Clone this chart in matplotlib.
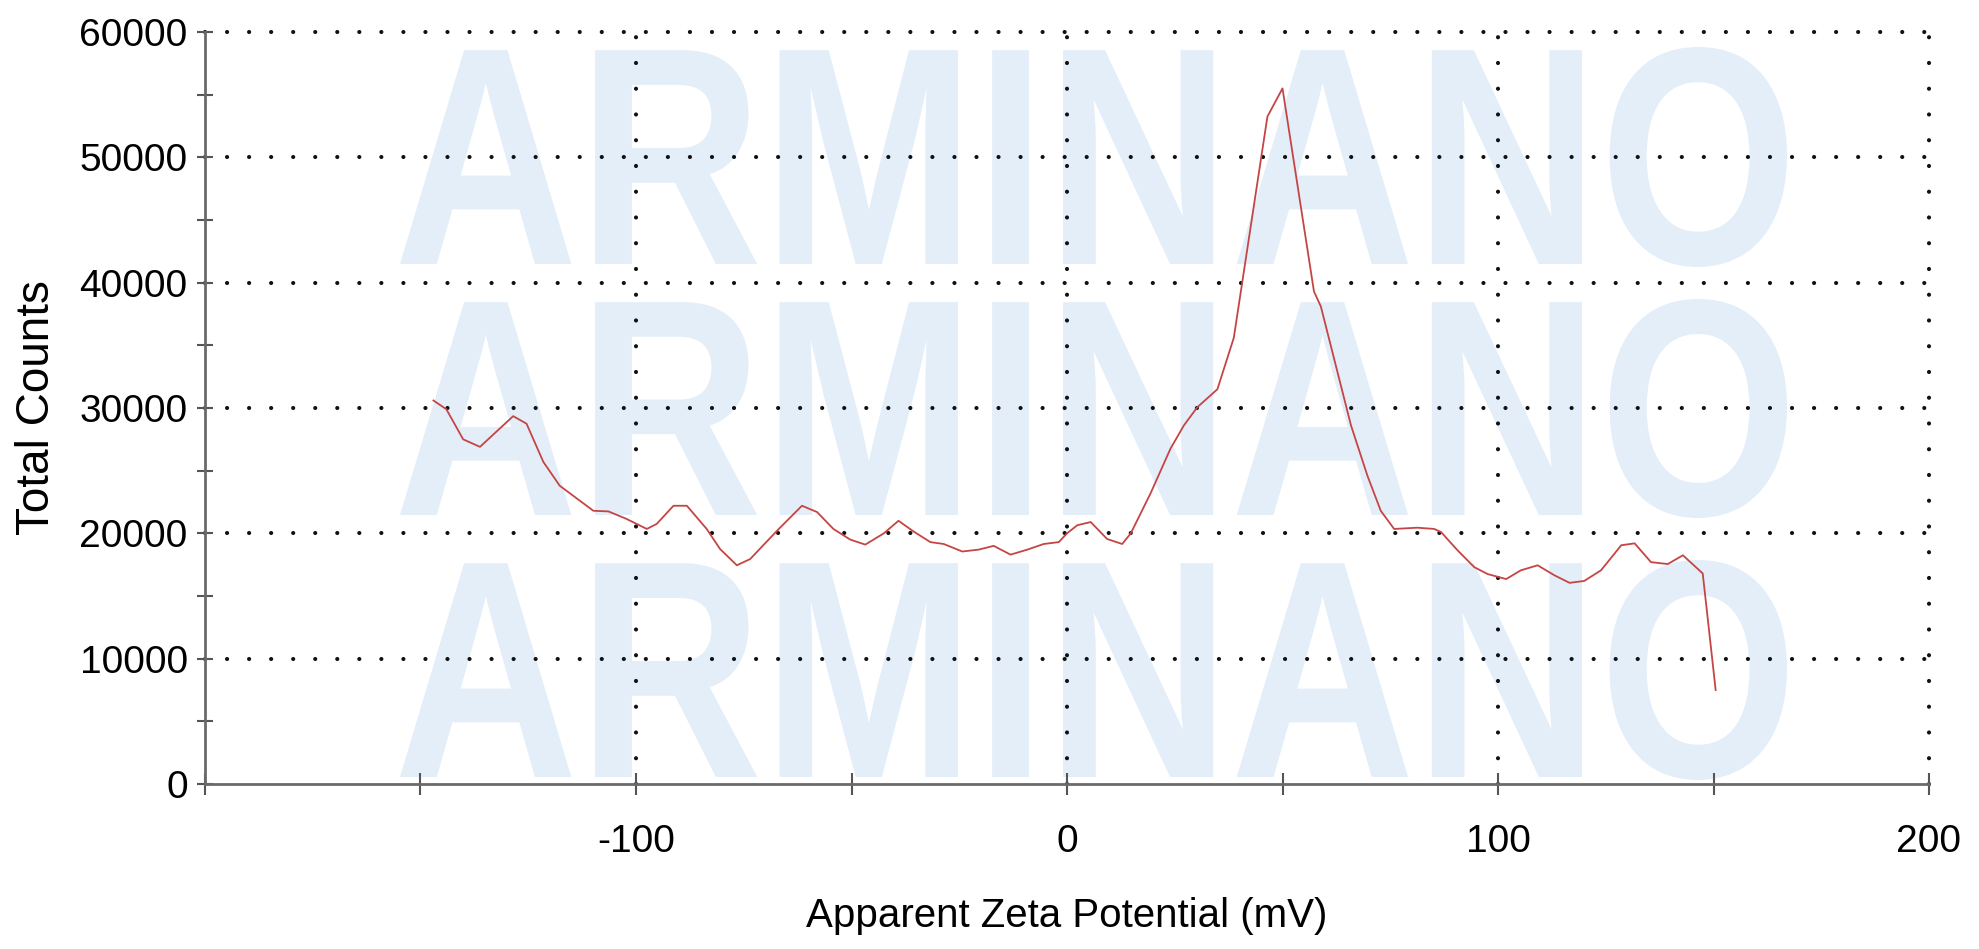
import matplotlib
matplotlib.use('Agg')
import matplotlib.pyplot as plt
from matplotlib.ticker import MultipleLocator
from matplotlib.textpath import TextPath
from matplotlib.font_manager import FontProperties
from matplotlib.patches import PathPatch
from matplotlib.transforms import Affine2D

plt.rcParams['font.family'] = ['Liberation Sans', 'DejaVu Sans']
plt.rcParams['axes.unicode_minus'] = False

zeta = [-147.0, -144.0, -140.1, -136.2, -128.5, -125.4, -121.5, -117.7, -109.9, -106.4,
        -102.2, -97.5, -95.2, -91.3, -88.2, -83.6, -80.5, -76.6, -73.5, -67.3,
        -61.5, -58.0, -54.2, -50.3, -46.8, -42.5, -39.1, -35.6, -31.7, -28.6,
        -24.3, -20.5, -17.0, -13.1, -9.2, -5.4, -1.9, 0.0, 2.4, 5.5,
        9.3, 12.8, 14.8, 19.4, 24.0, 27.1, 30.2, 34.9, 38.7, 46.5,
        50.0, 57.3, 58.9, 65.9, 69.7, 72.8, 75.9, 81.3, 85.2, 86.8,
        90.6, 94.5, 97.6, 101.9, 105.3, 109.2, 113.1, 116.6, 120.0, 123.9,
        128.6, 131.7, 135.5, 139.4, 142.9, 147.5, 150.5]
counts = [30600, 29900, 27500, 26900, 29350, 28750, 25700, 23800, 21800, 21750,
          21150, 20350, 20750, 22200, 22200, 20350, 18750, 17450, 17950, 20200,
          22200, 21700, 20350, 19500, 19100, 20000, 21000, 20150, 19300, 19150,
          18550, 18700, 19000, 18300, 18700, 19150, 19300, 20000, 20650, 20900,
          19550, 19150, 20000, 23200, 26750, 28600, 30050, 31500, 35600, 53250,
          55500, 39300, 38100, 28600, 24600, 21800, 20350, 20450, 20350, 20100,
          18650, 17300, 16750, 16350, 17050, 17450, 16650, 16050, 16200, 17050,
          19050, 19200, 17700, 17550, 18250, 16800, 7500]

xticks = [-200, -100, 0, 100, 200]
xticklabels = ['', '-100', '0', '100', '200']
yticks = [0, 10000, 20000, 30000, 40000, 50000, 60000]
yticklabels = ['0', '10000', '20000', '30000', '40000', '50000', '60000']
watermark = 'ARMINANO'

W, H = 1979, 949
fig = plt.figure(figsize=(W / 100, H / 100), dpi=100)
ax = fig.add_axes([205 / W, (H - 784) / H, (1929 - 205) / W, (784 - 32) / H])

# light blue watermark rows (pixel boxes: left, top, right, bottom)
tp = TextPath((0, 0), watermark, size=100,
              prop=FontProperties(family='Liberation Sans', weight='bold'))
ext = tp.get_extents()
for x0, ytop, x1, ybot in [(400, 47, 1787, 267), (400, 299, 1787, 518), (400, 560, 1787, 780)]:
    tr = (Affine2D().translate(-ext.x0, -ext.y0)
          .scale((x1 - x0) / ext.width, (ybot - ytop) / ext.height)
          .translate(x0, H - ybot).scale(1 / W, 1 / H))
    patch = PathPatch(tr.transform_path(tp), facecolor='#e3eef9', edgecolor='none',
                      transform=fig.transFigure, zorder=0.2, clip_on=False)
    ax.add_artist(patch)

ax.plot(zeta, counts, color='#c54545', linewidth=1.3, zorder=3)

ax.set_xlim(-200, 200)
ax.set_ylim(0, 60000)
ax.set_xticks(xticks)
ax.set_xticklabels(xticklabels)
ax.set_yticks(yticks)
ax.set_yticklabels(yticklabels)
ax.xaxis.set_minor_locator(MultipleLocator(50))
ax.yaxis.set_minor_locator(MultipleLocator(5000))

ax.tick_params(axis='x', which='both', direction='inout', length=16, width=1.5,
               color='#555555', labelsize=28, pad=21)
ax.tick_params(axis='y', which='both', direction='inout', length=12, width=1.5,
               color='#555555', labelsize=28, pad=6.5)

for s in ['top', 'right']:
    ax.spines[s].set_visible(False)
for s in ['left', 'bottom']:
    ax.spines[s].set_color('#6a6a6a')
    ax.spines[s].set_linewidth(2)

# dotted grid, round dots, not clipped so the edge rows stay whole
ax.yaxis.grid(True, color='#111111', linewidth=3, linestyle=(0, (0.01, 5.28)),
              dash_capstyle='round', zorder=1)
ax.xaxis.grid(True, color='#111111', linewidth=3, linestyle=(0, (0.01, 6.17)),
              dash_capstyle='round', zorder=1)
for t in ax.xaxis.get_major_ticks() + ax.yaxis.get_major_ticks():
    t.gridline.set_clip_on(False)
ax.xaxis.get_major_ticks()[0].gridline.set_visible(False)
ax.yaxis.get_major_ticks()[0].gridline.set_visible(False)

ax.set_xlabel('Apparent Zeta Potential (mV)', fontsize=29)
ax.set_ylabel('Total Counts', fontsize=33)
ax.xaxis.set_label_coords(0.5, (784 - 916) / 752)
ax.xaxis.label.set_va('center')
ax.yaxis.set_label_coords((37 - 205) / 1724, 0.5)
ax.yaxis.label.set_va('center')

fig.savefig('out.png', dpi=100)
